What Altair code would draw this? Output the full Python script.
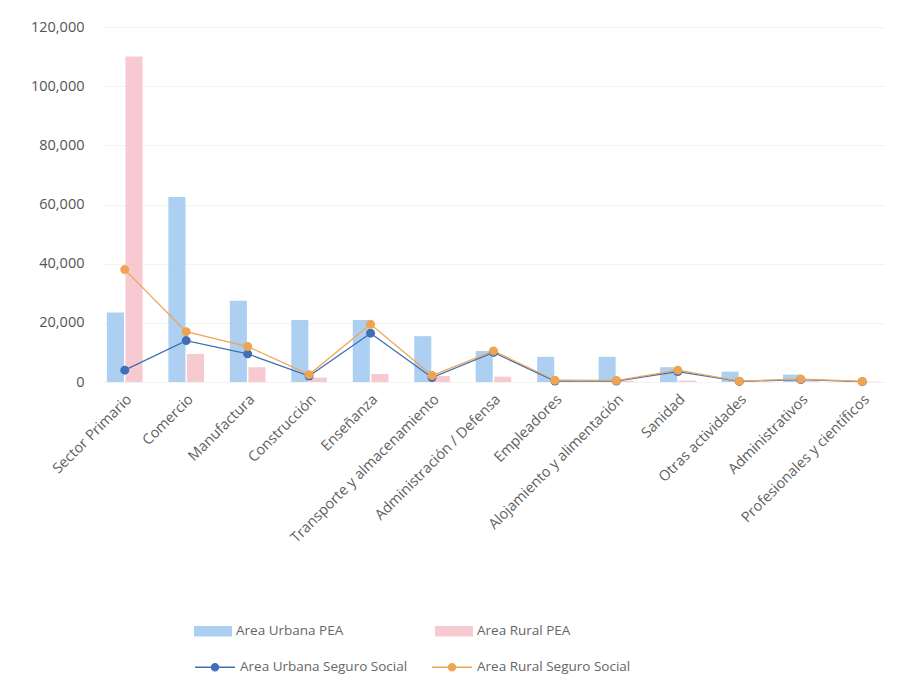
import altair as alt
import pandas as pd

categories = ["Sector Primario", "Comercio", "Manufactura", "Construcción", "Enseñanza",
              "Transporte y almacenamiento", "Administración / Defensa", "Empleadores",
              "Alojamiento y alimentación", "Sanidad", "Otras actividades", "Administrativos",
              "Profesionales y científicos"]
urban_pea = [23500, 62500, 27500, 21000, 21000, 15500, 10500, 8500, 8500, 5000, 3500, 2500, 300]
rural_pea = [110000, 9500, 5000, 1500, 2700, 2000, 1800, 500, 400, 500, 300, 300, 100]
urban_ss = [4000, 14000, 9500, 2000, 16500, 1500, 10000, 300, 300, 3500, 200, 800, 100]
rural_ss = [38000, 17000, 12000, 2500, 19500, 2200, 10500, 600, 500, 4000, 300, 1000, 200]

bar_names = ["Area Urbana  PEA", "Area Rural PEA"]
line_names = ["Area Urbana  Seguro Social", "Area Rural Seguro Social"]

FONT = "Open Sans"

bars = pd.DataFrame(
    [{"cat": c, "serie": bar_names[0], "v": u} for c, u in zip(categories, urban_pea)] +
    [{"cat": c, "serie": bar_names[1], "v": r} for c, r in zip(categories, rural_pea)]
)
lines = pd.DataFrame(
    [{"cat": c, "serie": line_names[0], "v": u} for c, u in zip(categories, urban_ss)] +
    [{"cat": c, "serie": line_names[1], "v": r} for c, r in zip(categories, rural_ss)]
)

x_enc = alt.X("cat:N", sort=categories, title=None,
              scale=alt.Scale(paddingInner=0.42, paddingOuter=0.08),
              axis=alt.Axis(labelAngle=315, labelColor="#5f5f5f", labelFontSize=14.5,
                            labelFont=FONT, domain=False, ticks=False, grid=False,
                            labelPadding=10, labelLimit=400))
y_enc = alt.Y("v:Q", title=None,
              scale=alt.Scale(domain=[0, 120000]),
              axis=alt.Axis(values=[0, 20000, 40000, 60000, 80000, 100000, 120000],
                            format=",d", labelColor="#555555", labelFontSize=14.5,
                            labelFont=FONT, domain=False, ticks=False,
                            gridColor="#f3f3f3", labelPadding=18))

bar_layer = alt.Chart(bars).mark_bar(opacity=0.92).encode(
    x=x_enc,
    y=y_enc,
    xOffset=alt.XOffset("serie:N", sort=bar_names, scale=alt.Scale(paddingInner=0.08)),
    fill=alt.Fill("serie:N", sort=bar_names,
                  scale=alt.Scale(domain=bar_names, range=["#a6ccf1", "#f6c4cc"]),
                  legend=alt.Legend(title=None, orient="none", legendX=92, legendY=585,
                                    columns=2, columnPadding=88,
                                    symbolType="M -1 -0.28 L 1 -0.28 L 1 0.28 L -1 0.28 Z",
                                    symbolSize=1444, symbolStrokeWidth=0,
                                    labelFontSize=13.5, labelFont=FONT,
                                    labelColor="#666666", labelLimit=400)),
)

line_layer = alt.Chart(lines).mark_line(
    strokeWidth=1.3,
    point=alt.OverlayMarkDef(filled=True, size=80),
).encode(
    x=alt.X("cat:N", sort=categories),
    y=alt.Y("v:Q"),
    color=alt.Color("serie:N", sort=line_names,
                    scale=alt.Scale(domain=line_names, range=["#3f6fb6", "#eea552"]),
                    legend=alt.Legend(title=None, orient="none", legendX=92, legendY=619,
                                      columns=2, columnPadding=18,
                                      symbolType="M -1 0 L 1 0 M 0.18 0 A 0.18 0.18 0 1 1 -0.18 0 A 0.18 0.18 0 1 1 0.18 0",
                                      symbolSize=1600, symbolStrokeWidth=1.3,
                                      labelFontSize=13.5, labelFont=FONT,
                                      labelColor="#666666", labelLimit=400)),
)

chart = alt.layer(bar_layer, line_layer).properties(
    width=783, height=355,
    padding={"left": 22, "top": 11, "right": 0, "bottom": 5},
).configure_view(stroke=None)

chart.save("out.html", embed_options={"renderer": "svg", "actions": False})
